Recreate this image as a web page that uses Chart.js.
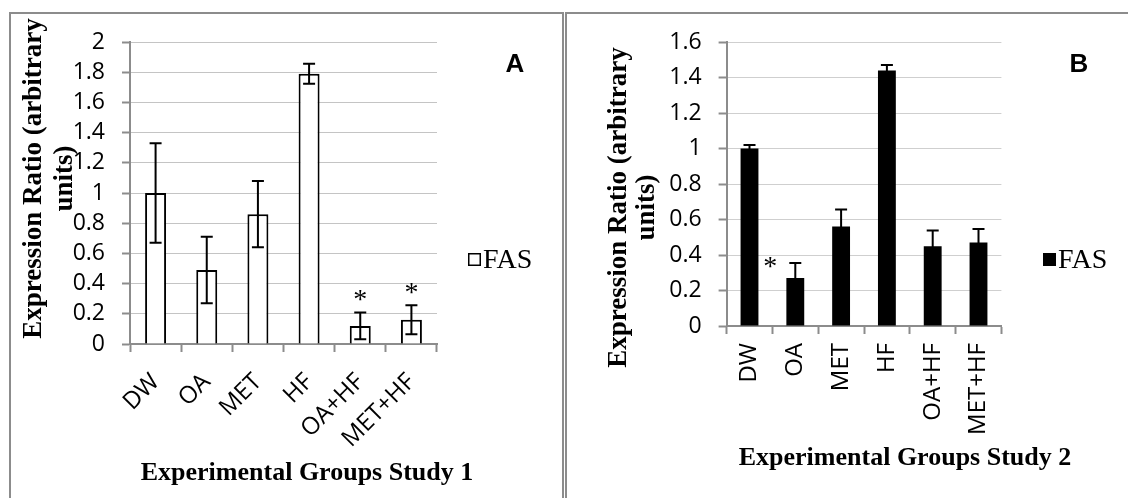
<!DOCTYPE html>
<html lang="en">
<head>
<meta charset="UTF-8">
<title>FAS expression</title>
<script src="https://cdn.jsdelivr.net/npm/chart.js@4.4.1/dist/chart.umd.min.js"></script>
<style>
  body { margin: 0; background: #fff; }
  #wrap { position: relative; width: 1128px; height: 498px; overflow: hidden; }
  canvas { position: absolute; top: 0; }
  #chartA { left: 0; }
  #chartB { left: 564px; }
</style>
</head>
<body>
<div id="wrap">
  <canvas id="chartA" width="564" height="498"></canvas>
  <canvas id="chartB" width="564" height="498"></canvas>
</div>
<script>
// data
var groups = ['DW', 'OA', 'MET', 'HF', 'OA+HF', 'MET+HF'];

var study1 = [1.0, 0.49, 0.86, 1.79, 0.12, 0.16];
var study1Err = [0.33, 0.22, 0.22, 0.066, 0.088, 0.096];
var study1Sig = [false, false, false, false, true, true];
var study1Ticks = [0, 0.2, 0.4, 0.6, 0.8, 1, 1.2, 1.4, 1.6, 1.8, 2];

var study2 = [1.0, 0.27, 0.56, 1.44, 0.45, 0.47];
var study2Err = [0.02, 0.085, 0.097, 0.03, 0.088, 0.077];
var study2Sig = [false, true, false, false, false, false];
var study2Ticks = [0, 0.2, 0.4, 0.6, 0.8, 1, 1.2, 1.4, 1.6];

var seriesName = 'FAS';
var yTitle = ['Expression Ratio (arbitrary', 'units)'];

Chart.defaults.font.family = "'Open Sans', sans-serif";
Chart.defaults.color = '#000';
Chart.defaults.animation = false;

// draws frame, error bars, stars, legend, titles
var extras = {
    id: 'extras',
    beforeDraw: function (chart, args, o) {
        var ctx = chart.ctx;
        ctx.save();
        ctx.strokeStyle = '#8c8c8c';
        ctx.lineWidth = 2;
        ctx.beginPath();
        ctx.moveTo(o.frameL, 500);
        ctx.lineTo(o.frameL, 13);
        ctx.lineTo(o.frameR, 13);
        if (o.frameR < 564) ctx.lineTo(o.frameR, 500);
        ctx.stroke();
        ctx.restore();
    },
    afterDatasetsDraw: function (chart, args, o) {
        var ctx = chart.ctx;
        var meta = chart.getDatasetMeta(0);
        var y = chart.scales.y;
        ctx.save();
        ctx.strokeStyle = '#000';
        ctx.lineWidth = 2;
        meta.data.forEach(function (bar, i) {
            var v = o.values[i], e = o.errors[i];
            var top = y.getPixelForValue(v + e);
            var bot = y.getPixelForValue(v - e);
            ctx.beginPath();
            ctx.moveTo(bar.x, top); ctx.lineTo(bar.x, bot);
            ctx.moveTo(bar.x - 6, top); ctx.lineTo(bar.x + 6, top);
            ctx.moveTo(bar.x - 6, bot); ctx.lineTo(bar.x + 6, bot);
            ctx.stroke();
            if (o.sig[i]) {
                ctx.font = "28px 'Liberation Serif'";
                ctx.textAlign = 'center';
                ctx.textBaseline = 'alphabetic';
                var m = ctx.measureText('*');
                var off = (m.actualBoundingBoxAscent - m.actualBoundingBoxDescent) / 2;
                ctx.fillStyle = '#000';
                ctx.fillText('*', bar.x + o.starDx, top - o.starDy + off);
            }
        });

        // legend
        ctx.fillStyle = o.legendFill;
        ctx.fillRect(o.legX, 253, 13, 13);
        ctx.lineWidth = 1.5;
        ctx.strokeRect(o.legX + 0.75, 253.75, 11.5, 11.5);
        ctx.fillStyle = '#000';
        ctx.font = "28px 'Liberation Serif'";
        ctx.textAlign = 'left';
        ctx.textBaseline = 'alphabetic';
        ctx.fillText(seriesName, o.legX + 15, 268);

        // panel letter
        ctx.font = "bold 26px 'Liberation Sans'";
        ctx.textAlign = 'center';
        ctx.fillText(o.letter, 515, 72);

        // axis titles
        ctx.font = "bold 26px 'Liberation Serif'";
        ctx.fillText(o.xTitle, o.xTitleX, o.xTitleY);
        ctx.font = "bold 27px 'Liberation Serif'";
        ctx.textBaseline = 'middle';
        yTitle.forEach(function (line, k) {
            ctx.save();
            ctx.translate(o.yTitleX[k], o.yTitleY);
            ctx.rotate(-Math.PI / 2);
            ctx.fillText(line, 0, 0);
            ctx.restore();
        });
        ctx.restore();
    }
};

function makeChart(id, values, tickList, fill, barPct, rot, xPad, yWidth, xHeight, padRight, gridDash, gridColor, extra) {
    return new Chart(document.getElementById(id), {
        type: 'bar',
        data: {
            labels: groups,
            datasets: [{
                label: seriesName,
                data: values,
                backgroundColor: fill,
                borderColor: '#000',
                borderWidth: fill === '#000' ? 0 : 2,
                categoryPercentage: 1,
                barPercentage: barPct
            }]
        },
        options: {
            responsive: false,
            layout: { padding: { left: 0, top: 42, right: padRight, bottom: 0 } },
            plugins: {
                legend: { display: false },
                tooltip: { enabled: false },
                extras: extra
            },
            scales: {
                x: {
                    grid: { drawOnChartArea: false, drawTicks: true, tickLength: 8, tickColor: '#8c8c8c', tickWidth: 2 },
                    border: { color: '#8c8c8c', width: 2 },
                    ticks: { font: { size: 24 }, minRotation: rot, maxRotation: rot, autoSkip: false, padding: xPad },
                    afterFit: function (s) { s.height = xHeight; }
                },
                y: {
                    min: 0,
                    max: tickList[tickList.length - 1],
                    afterBuildTicks: function (s) { s.ticks = tickList.map(function (v) { return { value: v }; }); },
                    grid: { color: gridColor, borderDash: gridDash, tickBorderDash: [], tickColor: '#8c8c8c', tickLength: 8, tickWidth: 2 },
                    border: { color: '#8c8c8c', width: 2 },
                    ticks: {
                        font: { size: 23 },
                        padding: 17,
                        autoSkip: false,
                        callback: function (v) { return String(parseFloat(Number(v).toFixed(1))); }
                    },
                    afterFit: function (s) { s.width = yWidth; }
                }
            }
        },
        plugins: [extras]
    });
}

makeChart('chartA', study1, study1Ticks, '#fff', 0.41, 45, 16, 130, 154, 127, [1, 2], '#c4c4c4', {
    values: study1, errors: study1Err, sig: study1Sig, starDx: 0, starDy: 17,
    legendFill: '#fff', legX: 468, letter: 'A',
    xTitle: 'Experimental Groups Study 1', xTitleX: 307, xTitleY: 480,
    yTitleX: [34, 65.5], yTitleY: 178.5, frameL: 10, frameR: 563
});

makeChart('chartB', study2, study2Ticks, '#000', 0.39, 90, 9, 162.6, 172, 126.6, [5, 3], '#cfcfcf', {
    values: study2, errors: study2Err, sig: study2Sig, starDx: -25, starDy: 0,
    legendFill: '#000', legX: 479, letter: 'B',
    xTitle: 'Experimental Groups Study 2', xTitleX: 341, xTitleY: 465,
    yTitleX: [54.7, 83.5], yTitleY: 207.5, frameL: 2, frameR: 9999
});
</script>
</body>
</html>
